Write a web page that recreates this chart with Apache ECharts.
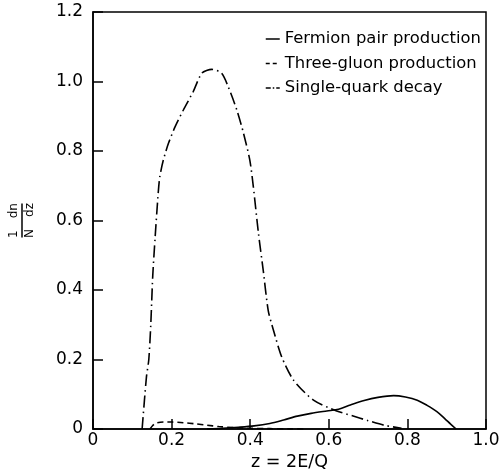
<!DOCTYPE html>
<html>
<head>
<meta charset="utf-8">
<script src="https://cdn.jsdelivr.net/npm/echarts@6/dist/echarts.min.js"></script>
<style>html,body{margin:0;padding:0;background:#fff}#c{width:502px;height:474px}</style>
</head>
<body>
<div id="c"></div>
<script>
var seriesNames = ['Fermion pair production', 'Three-gluon production', 'Single-quark decay'];

// Fermion pair production (solid)
var zFermion = [0.29, 0.33, 0.37, 0.41, 0.45, 0.485, 0.52, 0.555, 0.595, 0.625, 0.655, 0.69, 0.725, 0.765, 0.795, 0.825, 0.85, 0.875, 0.895, 0.91, 0.924];
var vFermion = [0.0, 0.002, 0.005, 0.009, 0.016, 0.026, 0.037, 0.045, 0.052, 0.057, 0.069, 0.082, 0.091, 0.096, 0.092, 0.083, 0.068, 0.050, 0.030, 0.014, 0.0];

// Three-gluon production (dashed)
var zGluon = [0.145, 0.152, 0.16, 0.18, 0.20, 0.23, 0.26, 0.29, 0.32, 0.36, 0.40, 0.45, 0.50, 0.545];
var vGluon = [0.0, 0.010, 0.017, 0.020, 0.020, 0.018, 0.015, 0.011, 0.007, 0.004, 0.002, 0.001, 0.0005, 0.0];

// Single-quark decay (dash-dot)
var zQuark = [0.125, 0.136, 0.142, 0.147, 0.152, 0.158, 0.166, 0.170, 0.179, 0.192, 0.209, 0.230, 0.255, 0.277, 0.302, 0.327, 0.344, 0.366, 0.383, 0.399, 0.408, 0.421, 0.433, 0.446, 0.459, 0.480, 0.510, 0.561, 0.620, 0.660, 0.700, 0.740, 0.785];
var vQuark = [0.0, 0.15, 0.20, 0.30, 0.44, 0.55, 0.68, 0.726, 0.774, 0.822, 0.870, 0.918, 0.971, 1.024, 1.035, 1.024, 0.985, 0.918, 0.851, 0.774, 0.697, 0.563, 0.458, 0.34, 0.285, 0.208, 0.141, 0.083, 0.052, 0.038, 0.024, 0.011, 0.002];

var dashTypes = ['solid', [6, 4], [12, 4, 1.5, 4]];

function pairs(z, v) { return z.map(function (x, i) { return [x, v[i]]; }); }

var FONT = 'DejaVu Sans';
var chart = echarts.init(document.getElementById('c'), null, {renderer: 'canvas'});
chart.setOption({
  animation: false,
  backgroundColor: '#fff',
  textStyle: {fontFamily: FONT, color: '#000'},
  grid: {left: 93, right: 16, top: 12, bottom: 45, containLabel: false, outerBoundsMode: 'none',
    show: true, borderColor: '#000', borderWidth: 1.5, backgroundColor: 'transparent'},
  legend: {
    orient: 'vertical', left: 260, top: 26,
    itemWidth: 14, itemHeight: 14, itemGap: 8.5,
    textStyle: {fontFamily: FONT, fontSize: 16.4, color: '#000'},
    itemStyle: {color: 'rgba(0,0,0,0)', borderColor: 'rgba(0,0,0,0)', borderWidth: 0},
    data: seriesNames.map(function (n, i) {
      return {name: n, lineStyle: {color: '#000', width: 1.5, type: i === 2 ? [5, 2, 1.5, 2] : (i === 1 ? [4, 3] : 'solid')}};
    })
  },
  xAxis: {
    type: 'value', min: 0, max: 1, interval: 0.2,
    name: 'z = 2E/Q', nameLocation: 'middle', nameGap: 20,
    nameTextStyle: {fontFamily: FONT, fontSize: 17.5, color: '#000'},
    axisLine: {lineStyle: {color: '#000', width: 1.5}},
    axisTick: {inside: true, length: 10, lineStyle: {color: '#000', width: 1.5}},
    axisLabel: {fontFamily: FONT, fontSize: 17, color: '#000', margin: 3,
      formatter: function (v) { return v === 0 ? '0' : v.toFixed(1); }},
    splitLine: {show: false}
  },
  yAxis: {
    type: 'value', min: 0, max: 1.2, interval: 0.2,
    name: '{n|1}{s| }{n|dn}\n{bar| }\n{n|N}{s| }{n|dz}',
    nameLocation: 'middle', nameGap: 57, nameRotate: 90,
    nameTextStyle: {
      fontFamily: FONT, fontSize: 12, color: '#000',
      rich: {
        n: {fontFamily: FONT, fontSize: 12, color: '#000', lineHeight: 12},
        s: {fontSize: 12, width: 12, lineHeight: 12},
        bar: {fontSize: 2, lineHeight: 4, height: 1.5, width: 34, backgroundColor: '#000'}
      }
    },
    axisLine: {lineStyle: {color: '#000', width: 1.5}},
    axisTick: {inside: true, length: 10, lineStyle: {color: '#000', width: 1.5}},
    axisLabel: {fontFamily: FONT, fontSize: 17, color: '#000', margin: 10,
      formatter: function (v) { return v === 0 ? '0' : v.toFixed(1); }},
    splitLine: {show: false}
  },
  series: [
    {name: seriesNames[0], type: 'line', data: pairs(zFermion, vFermion), smooth: 0.3, symbol: 'none',
      lineStyle: {color: '#000', width: 1.6, type: dashTypes[0]}, itemStyle: {color: '#000'}},
    {name: seriesNames[1], type: 'line', data: pairs(zGluon, vGluon), smooth: 0.3, symbol: 'none',
      lineStyle: {color: '#000', width: 1.6, type: dashTypes[1]}, itemStyle: {color: '#000'}},
    {name: seriesNames[2], type: 'line', data: pairs(zQuark, vQuark), smooth: 0.25, symbol: 'none',
      lineStyle: {color: '#000', width: 1.6, type: dashTypes[2]}, itemStyle: {color: '#000'}}
  ]
});
</script>
</body>
</html>
